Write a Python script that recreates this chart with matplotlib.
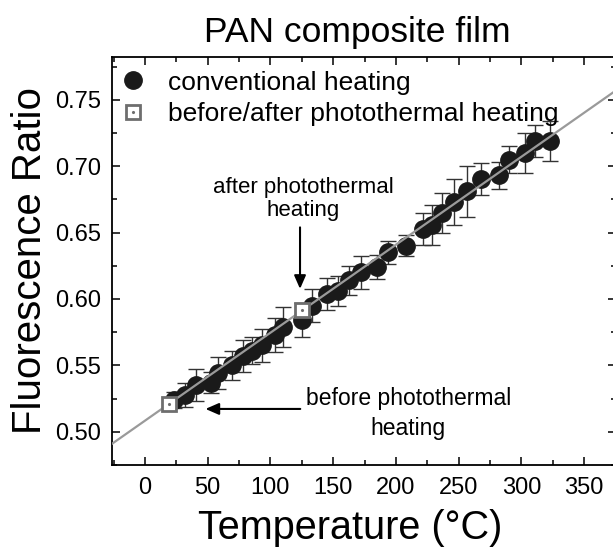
import numpy as np
import matplotlib.pyplot as plt
from matplotlib.lines import Line2D

plt.rcParams['font.family'] = ['Liberation Sans', 'DejaVu Sans']

# conventional heating data
temp = [23, 32, 41, 53, 58, 69, 78, 85, 93, 104, 110, 125, 133, 145, 154, 163,
        172, 185, 194, 208, 222, 229, 237, 246, 257, 268, 282, 290, 303, 311, 323]
ratio = [0.524, 0.528, 0.535, 0.537, 0.544, 0.550, 0.557, 0.561, 0.565, 0.573,
         0.579, 0.584, 0.595, 0.604, 0.606, 0.614, 0.620, 0.624, 0.635, 0.640,
         0.653, 0.656, 0.665, 0.673, 0.681, 0.690, 0.693, 0.705, 0.710, 0.719, 0.719]
err = [0.006, 0.009, 0.012, 0.008, 0.012, 0.011, 0.012, 0.010, 0.0125, 0.013,
       0.015, 0.013, 0.0125, 0.012, 0.011, 0.011, 0.0125, 0.009, 0.009, 0.008,
       0.012, 0.015, 0.015, 0.017, 0.019, 0.012, 0.010, 0.010, 0.015, 0.012, 0.015]

# before / after photothermal heating
pt_temp = [19, 125]
pt_ratio = [0.521, 0.592]

# linear fit (end points)
fit_temp = [-30, 380]
fit_ratio = [0.4885, 0.7600]

fig = plt.figure(figsize=(6.13, 5.51), dpi=100)
ax = fig.add_axes([0.1827, 0.1561, 0.8222, 0.7405])

ax.errorbar(temp, ratio, yerr=err, fmt='none', ecolor='#333333', elinewidth=1,
            capsize=6, capthick=1, zorder=2)
ax.plot(temp, ratio, 'o', color='#1a1a1a', markersize=12.5, zorder=3)
ax.plot(fit_temp, fit_ratio, '-', color='#9a9a9a', lw=1.6, zorder=4)
ax.plot(pt_temp, pt_ratio, 's', mfc='white', mec='#6e6e6e', mew=2, markersize=9.5, zorder=5)
ax.plot(pt_temp, pt_ratio, '.', color='#6e6e6e', markersize=2.5, zorder=6)

ax.set_xlim(-26.3, 375.5)
ax.set_ylim(0.4768, 0.7822)
ax.set_xticks(np.arange(0, 351, 50))
ax.set_xticks(np.arange(-25, 376, 25), minor=True)
ax.set_yticks(np.arange(0.50, 0.751, 0.05))
ax.set_yticks(np.arange(0.475, 0.78, 0.025), minor=True)
ax.yaxis.set_major_formatter(plt.FormatStrFormatter('%.2f'))
ax.tick_params(which='both', direction='in', top=True, right=True, width=1.1, labelsize=17)
ax.tick_params(which='major', length=6)
ax.tick_params(which='minor', length=3.5)
ax.tick_params(axis='x', pad=9)
ax.tick_params(axis='y', pad=8)
for s in ax.spines.values():
    s.set_linewidth(1.3)

ax.set_xlabel('Temperature (°C)', fontsize=28.5)
ax.xaxis.set_label_coords(0.472, -0.108)
ax.set_ylabel('Fluorescence Ratio', fontsize=29, labelpad=4)
ax.set_title('PAN composite film', fontsize=25.5, pad=11, x=0.486)

h1 = Line2D([], [], marker='o', ls='none', color='#1a1a1a', markersize=12.5)
h2 = Line2D([], [], marker='s', ls='none', mfc='white', mec='#6e6e6e', mew=2, markersize=9.5)
h3 = Line2D([], [], marker='.', ls='none', color='#6e6e6e', markersize=2.5)
ax.legend([h1, (h2, h3)], ['conventional heating', 'before/after photothermal heating'],
          loc='upper left', bbox_to_anchor=(-0.027, 1.012), frameon=False, fontsize=19,
          handlelength=1.2, handletextpad=0.75, labelspacing=0.3, borderaxespad=0.3)

ax.annotate('', xy=(123.6, 0.6055), xytext=(123.6, 0.656),
            arrowprops=dict(arrowstyle='-|>,head_length=0.8,head_width=0.35', color='black', lw=1.5))
ax.text(126, 0.659, 'after photothermal\nheating', ha='center', va='bottom', fontsize=16,
        linespacing=1.1)
ax.annotate('', xy=(46, 0.5172), xytext=(126, 0.5172),
            arrowprops=dict(arrowstyle='-|>,head_length=0.8,head_width=0.35', color='black', lw=1.5))
ax.text(210, 0.5135, 'before photothermal\nheating', ha='center', va='center', fontsize=16.5,
        linespacing=1.4)

fig.savefig('out.png', dpi=100)
